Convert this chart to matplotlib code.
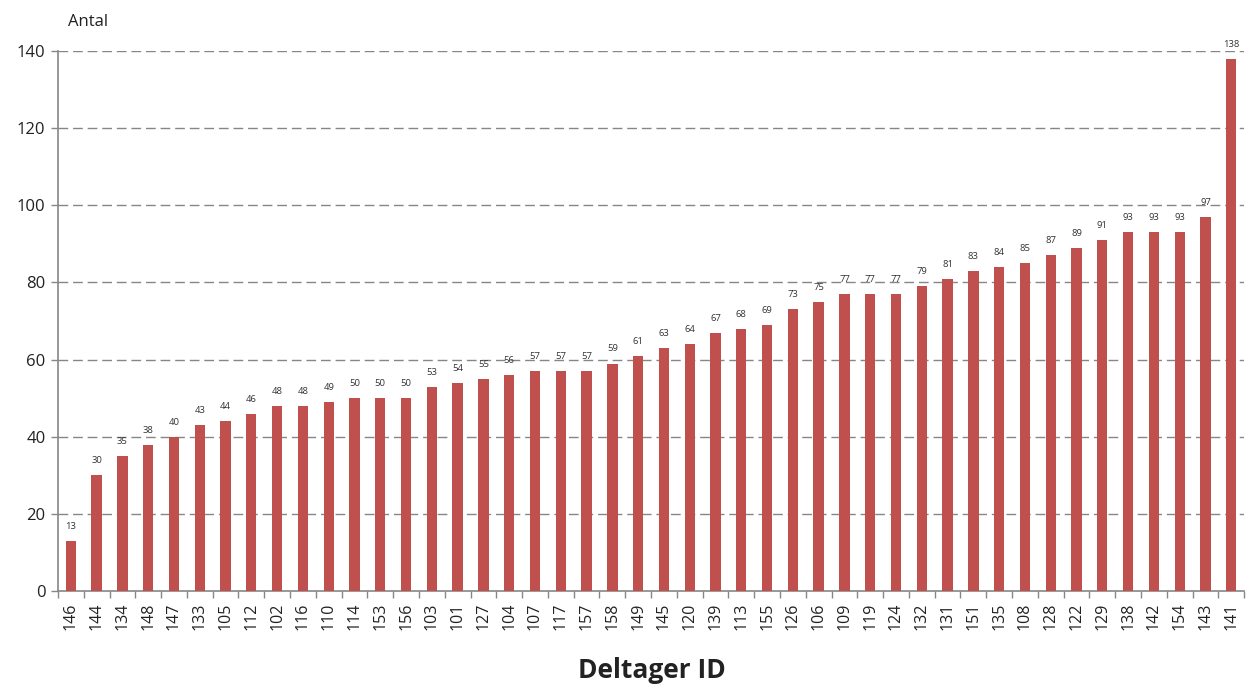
import matplotlib
matplotlib.use("Agg")
import matplotlib.pyplot as plt
import numpy as np

# participant ids (x axis) and counts, sorted ascending as in the source chart
deltager = ["146", "144", "134", "148", "147", "133", "105", "112", "102", "116",
            "110", "114", "153", "156", "103", "101", "127", "104", "107", "117",
            "157", "158", "149", "145", "120", "139", "113", "155", "126", "106",
            "109", "119", "124", "132", "131", "151", "135", "108", "128", "122",
            "129", "138", "142", "154", "143", "141"]
antal = [13, 30, 35, 38, 40, 43, 44, 46, 48, 48,
         49, 50, 50, 50, 53, 54, 55, 56, 57, 57,
         57, 59, 61, 63, 64, 67, 68, 69, 73, 75,
         77, 77, 77, 79, 81, 83, 84, 85, 87, 89,
         91, 93, 93, 93, 97, 138]
yticks = [0, 20, 40, 60, 80, 100, 120, 140]

plt.rcParams["font.family"] = ["Open Sans", "DejaVu Sans"]
bar_color = "#C0504D"
axis_gray = "#868686"
text_col = "#222222"

fig = plt.figure(figsize=(12.46, 6.89), dpi=100)
ax = fig.add_axes([0.0465, 0.142, 0.952, 0.784])

x = np.arange(len(deltager))
ax.bar(x, antal, width=0.4, color=bar_color, zorder=3)

for xi, v in zip(x, antal):
    ax.text(xi, v + 2.6, str(v), ha="center", va="bottom", fontsize=6.8,
            color="#333333", zorder=4, clip_on=False)

ax.set_xlim(-0.5, len(deltager) - 0.5)
ax.set_ylim(0, 140)
ax.set_yticks(yticks)
ax.set_yticklabels([str(t) for t in yticks], fontsize=12, color=text_col)
ax.set_xticks(x)
ax.set_xticklabels(deltager, rotation=90, fontsize=11.5, color=text_col)
ax.tick_params(axis="x", length=0, pad=8)
ax.set_xticks(np.arange(-0.5, len(deltager)), minor=True)
ax.tick_params(axis="x", which="minor", length=5, color=axis_gray, width=1)
ax.tick_params(axis="y", length=5, color=axis_gray, width=1, pad=4)

for t in yticks[1:]:
    ax.axhline(t, color=axis_gray, lw=1, ls=(0, (7, 3.5)), zorder=1)

for s in ["top", "right"]:
    ax.spines[s].set_visible(False)
ax.spines["left"].set_color(axis_gray)
ax.spines["bottom"].set_color(axis_gray)
ax.spines["left"].set_linewidth(1.2)
ax.spines["bottom"].set_linewidth(1.2)

fig.text(68 / 1246, 1 - 22 / 689, "Antal", fontsize=12, color=text_col,
         ha="left", va="center")
fig.text(0.523, 1 - 671 / 689, "Deltager ID", fontsize=19, fontweight="bold",
         color=text_col, ha="center", va="center")

fig.savefig("out.png", dpi=100)
